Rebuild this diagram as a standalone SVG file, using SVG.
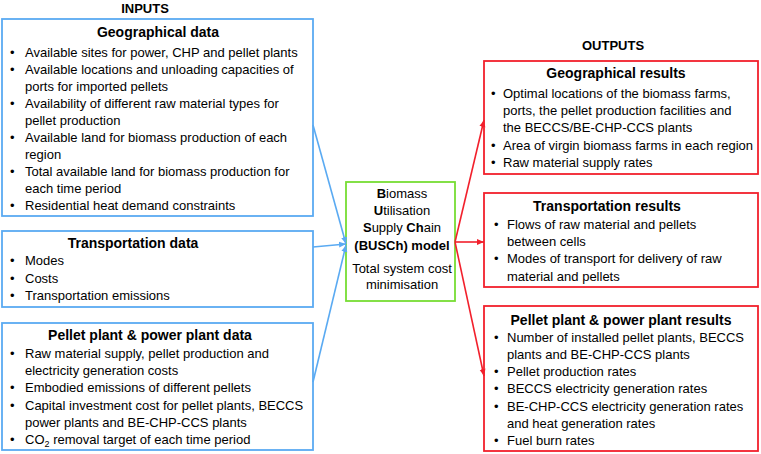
<svg xmlns="http://www.w3.org/2000/svg" width="761" height="454" viewBox="0 0 761 454">
<defs>
<marker id="ab" markerWidth="8" markerHeight="8" refX="7" refY="4" orient="auto" markerUnits="userSpaceOnUse"><path d="M0,1 L7,4 L0,7 Z" fill="#5aaaf2"/></marker>
<marker id="ar" markerWidth="8" markerHeight="8" refX="7" refY="4" orient="auto" markerUnits="userSpaceOnUse"><path d="M0,1 L7,4 L0,7 Z" fill="#f2202c"/></marker>
</defs>
<style>
text{font-family:"Liberation Sans",Arial,sans-serif;font-size:13px;fill:#000}
.h{font-weight:bold;font-size:14px;text-anchor:middle}
.hd{font-weight:bold;font-size:13px;text-anchor:middle}
.c{text-anchor:middle}
.in{fill:#fff;stroke:#5aaaf2;stroke-width:1.8}
.out{fill:#fff;stroke:#f2202c;stroke-width:1.8}
.mid{fill:#fff;stroke:#77dd33;stroke-width:1.8}
.lb{stroke:#5aaaf2;stroke-width:1.6;fill:none}
.lr{stroke:#f2202c;stroke-width:1.6;fill:none}
</style>
<rect width="761" height="454" fill="#fff"/>
<text class="hd" x="145" y="13">INPUTS</text>
<text class="hd" x="613" y="50">OUTPUTS</text>

<g id="geo-data">
<rect class="in" x="2" y="19" width="311" height="197"/>
<text class="h" x="158" y="37">Geographical data</text>
<text x="10" y="57">•</text><text x="25" y="57">Available sites for power, CHP and pellet plants</text>
<text x="10" y="74">•</text><text x="25" y="74">Available locations and unloading capacities of</text>
<text x="25" y="91">ports for imported pellets</text>
<text x="10" y="108">•</text><text x="25" y="108">Availability of different raw material types for</text>
<text x="25" y="125">pellet production</text>
<text x="10" y="142">•</text><text x="25" y="142">Available land for biomass production of each</text>
<text x="25" y="159">region</text>
<text x="10" y="176">•</text><text x="25" y="176">Total available land for biomass production for</text>
<text x="25" y="193">each time period</text>
<text x="10" y="210">•</text><text x="25" y="210">Residential heat demand constraints</text>
</g>

<g id="transport-data">
<rect class="in" x="2" y="231" width="311" height="76"/>
<text class="h" x="133" y="248">Transportation data</text>
<text x="10" y="265">•</text><text x="25" y="265">Modes</text>
<text x="10" y="283">•</text><text x="25" y="283">Costs</text>
<text x="10" y="300">•</text><text x="25" y="300">Transportation emissions</text>
</g>

<g id="plant-data">
<rect class="in" x="2" y="323" width="311" height="127"/>
<text class="h" x="150" y="340">Pellet plant &amp; power plant data</text>
<text x="10" y="358">•</text><text x="25" y="358">Raw material supply, pellet production and</text>
<text x="25" y="375">electricity generation costs</text>
<text x="10" y="392">•</text><text x="25" y="392">Embodied emissions of different pellets</text>
<text x="10" y="410">•</text><text x="25" y="410">Capital investment cost for pellet plants, BECCS</text>
<text x="25" y="427">power plants and BE-CHP-CCS plants</text>
<text x="10" y="444">•</text><text x="25" y="444">CO<tspan font-size="9" dy="3">2</tspan><tspan dy="-3"> removal target of each time period</tspan></text>
</g>

<g id="busch">
<rect class="mid" x="346" y="182" width="109" height="119"/>
<text class="c" x="402" y="198"><tspan font-weight="bold">B</tspan>iomass</text>
<text class="c" x="402" y="215"><tspan font-weight="bold">U</tspan>tilisation</text>
<text class="c" x="402" y="232"><tspan font-weight="bold">S</tspan>upply <tspan font-weight="bold">Ch</tspan>ain</text>
<text class="c" x="402" y="250" font-weight="bold">(BUSCh) model</text>
<text class="c" x="402" y="273">Total system cost</text>
<text class="c" x="402" y="289">minimisation</text>
</g>

<g id="geo-results">
<rect class="out" x="484" y="61" width="274" height="113"/>
<text class="h" x="616" y="78">Geographical results</text>
<text x="491" y="98">•</text><text x="503" y="98">Optimal locations of the biomass farms,</text>
<text x="503" y="115">ports, the pellet production facilities and</text>
<text x="503" y="132">the BECCS/BE-CHP-CCS plants</text>
<text x="491" y="150">•</text><text x="503" y="150">Area of virgin biomass farms in each region</text>
<text x="491" y="167">•</text><text x="503" y="167">Raw material supply rates</text>
</g>

<g id="transport-results">
<rect class="out" x="484" y="193" width="274" height="94"/>
<text class="h" x="607" y="211">Transportation results</text>
<text x="494" y="229">•</text><text x="507" y="229">Flows of raw material and pellets</text>
<text x="507" y="246">between cells</text>
<text x="494" y="263">•</text><text x="507" y="263">Modes of transport for delivery of raw</text>
<text x="507" y="281">material and pellets</text>
</g>

<g id="plant-results">
<rect class="out" x="484" y="306" width="274" height="145"/>
<text class="h" x="621" y="325">Pellet plant &amp; power plant results</text>
<text x="494" y="342">•</text><text x="507" y="342">Number of installed pellet plants, BECCS</text>
<text x="507" y="359">plants and BE-CHP-CCS plants</text>
<text x="494" y="376">•</text><text x="507" y="376">Pellet production rates</text>
<text x="494" y="393">•</text><text x="507" y="393">BECCS electricity generation rates</text>
<text x="494" y="411">•</text><text x="507" y="411">BE-CHP-CCS electricity generation rates</text>
<text x="507" y="428">and heat generation rates</text>
<text x="494" y="445">•</text><text x="507" y="445">Fuel burn rates</text>
</g>

<g id="connectors">
<line class="lb" x1="313" y1="125" x2="346" y2="244" marker-end="url(#ab)"/>
<line class="lb" x1="313" y1="247" x2="346" y2="244" marker-end="url(#ab)"/>
<line class="lb" x1="313" y1="382" x2="346" y2="245" marker-end="url(#ab)"/>
<line class="lr" x1="455" y1="242" x2="484" y2="120" marker-end="url(#ar)"/>
<line class="lr" x1="455" y1="242" x2="484" y2="242" marker-end="url(#ar)"/>
<line class="lr" x1="455" y1="242" x2="484" y2="376" marker-end="url(#ar)"/>
</g>
</svg>
